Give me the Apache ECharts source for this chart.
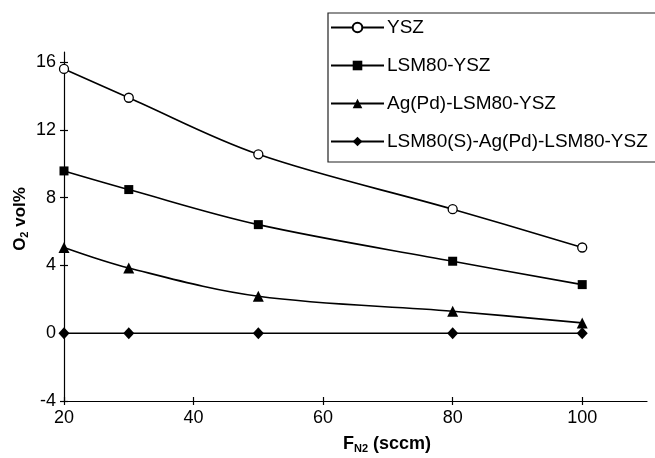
<!DOCTYPE html>
<html>
<head>
<meta charset="utf-8">
<script src="https://cdn.jsdelivr.net/npm/echarts@6/dist/echarts.min.js"></script>
<style>
  html, body { margin: 0; padding: 0; background: #fff; }
  #chart { width: 655px; height: 458px; }
</style>
</head>
<body>
<div id="chart"></div>
<script>
// N2 flow rates (sccm)
const flowRates = [20, 30, 50, 80, 100];

// O2 content (vol%) for each cell configuration
const ysz        = [15.6, 13.9, 10.56, 7.32, 5.06];
const lsmYsz     = [9.58, 8.48, 6.41, 4.25, 2.87];
const agLsmYsz   = [5.06, 3.85, 2.18, 1.30, 0.61];
const sAgLsmYsz  = [0, 0, 0, 0, 0];

const seriesNames = ['YSZ', 'LSM80-YSZ', 'Ag(Pd)-LSM80-YSZ', 'LSM80(S)-Ag(Pd)-LSM80-YSZ'];

// tick labels
const xTicks = [20, 40, 60, 80, 100];
const yTicks = [-4, 0, 4, 8, 12, 16];

const pair = (ys) => flowRates.map((x, i) => [x, ys[i]]);

const FONT = 'Liberation Sans, Arial, sans-serif';
const black = '#000';

const chart = echarts.init(document.getElementById('chart'), null, { renderer: 'canvas' });

const lineSeries = (name, data, symbol, size, fill) => ({
  name: name,
  type: 'line',
  xAxisIndex: 0,
  yAxisIndex: 0,
  data: pair(data),
  smooth: 0.35,
  symbol: symbol,
  symbolSize: size,
  showAllSymbol: true,
  lineStyle: { color: black, width: 1.6 },
  itemStyle: { color: fill, borderColor: black, borderWidth: fill === '#fff' ? 1.3 : 0 },
  emphasis: { disabled: true },
  animation: false
});

const baseX = {
  type: 'value', min: 20, max: 110, interval: 20,
  splitLine: { show: false }
};
const baseY = {
  type: 'value', min: -4, max: 16.6, interval: 4,
  splitLine: { show: false }
};

chart.setOption({
  backgroundColor: '#fff',
  animation: false,
  grid: { left: 64, right: 8, top: 52, bottom: 57, containLabel: false },
  xAxis: [
    Object.assign({}, baseX, {
      position: 'bottom',
      axisLine: { show: true, onZero: false, lineStyle: { color: black, width: 1.2 } },
      axisTick: { show: true, length: 4, customValues: xTicks, lineStyle: { color: black, width: 1.2 } },
      axisLabel: { customValues: xTicks, color: black, fontFamily: FONT, fontSize: 18, margin: 8 }
    }),
    Object.assign({}, baseX, {
      position: 'bottom',
      axisLine: { show: false, onZero: false },
      axisTick: { show: true, inside: true, length: 4, customValues: xTicks, lineStyle: { color: black, width: 1.2 } },
      axisLabel: { show: false }
    })
  ],
  yAxis: [
    Object.assign({}, baseY, {
      position: 'left',
      axisLine: { show: true, onZero: false, lineStyle: { color: black, width: 1.2 } },
      axisTick: { show: true, length: 4, customValues: yTicks, lineStyle: { color: black, width: 1.2 } },
      axisLabel: { customValues: yTicks, color: black, fontFamily: FONT, fontSize: 18, margin: 8 }
    }),
    Object.assign({}, baseY, {
      position: 'left',
      axisLine: { show: false, onZero: false },
      axisTick: { show: true, inside: true, length: 4, customValues: yTicks, lineStyle: { color: black, width: 1.2 } },
      axisLabel: { show: false }
    })
  ],
  legend: {
    left: 328,
    top: 13,
    orient: 'vertical',
    data: seriesNames,
    itemWidth: 53,
    itemHeight: 12,
    itemGap: 19,
    padding: [5, 12, 11, 2],
    borderColor: '#222',
    borderWidth: 1.2,
    borderRadius: 0,
    backgroundColor: '#fff',
    selectedMode: false,
    textStyle: { color: black, fontFamily: FONT, fontSize: 19, padding: [0, 0, 0, -2] }
  },
  graphic: [
    {
      type: 'text',
      x: 387, y: 444,
      style: {
        text: '{b|F}{s|N2}{b| (sccm)}',
        align: 'center',
        verticalAlign: 'middle',
        fill: black,
        rich: {
          b: { fontFamily: FONT, fontWeight: 'bold', fontSize: 18, fill: black },
          s: { fontFamily: FONT, fontWeight: 'bold', fontSize: 11, fill: black, padding: [10, 0, 0, 0] }
        }
      }
    },
    {
      type: 'text',
      x: 20, y: 219,
      rotation: Math.PI / 2,
      style: {
        text: '{b|O}{s|2}{b| vol%}',
        align: 'center',
        verticalAlign: 'middle',
        fill: black,
        rich: {
          b: { fontFamily: FONT, fontWeight: 'bold', fontSize: 17, fill: black },
          s: { fontFamily: FONT, fontWeight: 'bold', fontSize: 11, fill: black, padding: [9, 0, 0, 0] }
        }
      }
    }
  ],
  series: [
    lineSeries(seriesNames[0], ysz, 'circle', 9, '#fff'),
    lineSeries(seriesNames[1], lsmYsz, 'rect', 9, black),
    lineSeries(seriesNames[2], agLsmYsz, 'triangle', 11, black),
    lineSeries(seriesNames[3], sAgLsmYsz, 'diamond', [11, 12], black)
  ]
});
</script>
</body>
</html>
